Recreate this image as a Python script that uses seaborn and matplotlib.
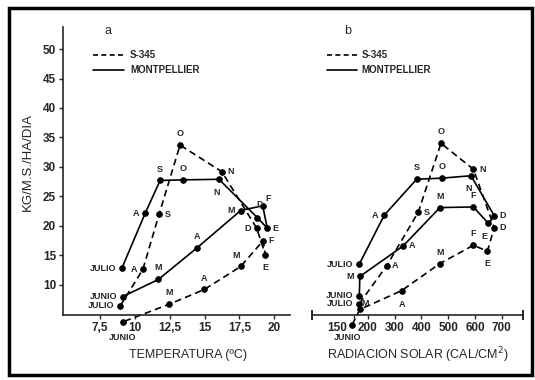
import matplotlib
matplotlib.use("Agg")
import matplotlib.pyplot as plt
import seaborn as sns
import pandas as pd
from matplotlib.patches import Rectangle

# meses (julio -> junio)
meses = ["JULIO", "A", "S", "O", "N", "D", "E", "F", "M", "A", "M", "JUNIO"]

# panel a: temperatura (oC) vs kg M.S./ha/dia
temp_mont = [9.06, 10.73, 11.81, 13.48, 16.04, 18.79, 19.51, 19.18, 17.6, 14.48, 11.69, 9.13]
kg_mont_a = [12.8, 22.1, 27.7, 27.8, 27.9, 21.4, 19.6, 23.4, 22.6, 16.3, 10.9, 8.0]
temp_s345 = [8.94, 10.57, 11.74, 13.24, 16.24, 18.75, 19.37, 19.22, 17.6, 14.99, 12.47, 9.13]
kg_s345_a = [6.4, 12.6, 22.0, 33.7, 29.2, 19.6, 15.1, 17.5, 13.1, 9.2, 6.7, 3.7]

# panel b: radiacion solar (cal/cm2) vs kg M.S./ha/dia
rad_mont = [168, 261, 382, 478, 585, 672, 650, 594, 469, 332, 170, 168]
kg_mont_b = [13.5, 21.8, 27.9, 28.1, 28.5, 21.7, 20.4, 23.2, 23.1, 16.6, 11.4, 8.1]
rad_s345 = [168, 270, 388, 473, 594, 672, 646, 594, 469, 326, 170, 141]
kg_s345_b = [6.8, 13.2, 22.3, 34.0, 29.6, 19.7, 15.7, 16.7, 13.6, 9.0, 5.8, 3.2]

yticks = [10, 15, 20, 25, 30, 35, 40, 45, 50]
xticks_a = [7.5, 10, 12.5, 15, 17.5, 20]
xlabels_a = ["7,5", "10", "12,5", "15", "17,5", "20"]
xticks_b = [150, 200, 300, 400, 500, 600, 700]

# posicion de las etiquetas de cada punto (desplazamiento en puntos)
L, R, U, D = (-4, 0), (4, 0), (0, 5), (0, -6)
off_mont_a = [L, L, U, U, (-2, -6), (2, 6), R, (4, 2), L, U, U, L]
off_s345_a = [L, L, R, U, R, L, D, R, (-3, 5), U, U, (0, -8)]
off_mont_b = [L, L, U, U, (-2, -6), R, (-3, -6), U, U, R, L, L]
off_s345_b = [L, R, R, U, R, R, D, U, U, (0, -7), (4, 1), (-3, -6)]

sns.set_style("ticks")
plt.rcParams["font.family"] = ["Liberation Sans", "DejaVu Sans"]

fig = plt.figure(figsize=(5.35, 3.8), dpi=100)
ax_a = fig.add_axes([0.118, 0.171, 0.424, 0.758])
ax_b = fig.add_axes([0.584, 0.171, 0.393, 0.758])


def serie(ax, x, y, estilo, offs):
    df = pd.DataFrame({"x": x, "y": y})
    sns.lineplot(data=df, x="x", y="y", sort=False, estimator=None, ax=ax,
                 color="black", linestyle=estilo, linewidth=1.2,
                 marker="o", markersize=4, markeredgecolor="black")
    ax.lines[-1].set_clip_on(False)
    if estilo == "--":
        ax.lines[-1].set_dashes((4, 2.5))
    for xi, yi, m, o in zip(x, y, meses, offs):
        ha = "right" if o[0] < 0 and o[1] == 0 else ("left" if o[0] > 0 and o[1] == 0 else "center")
        va = "center" if o[1] == 0 else ("bottom" if o[1] > 0 else "top")
        ax.annotate(m, (xi, yi), xytext=o, textcoords="offset points",
                    ha=ha, va=va, fontsize=6.5, fontweight="bold",
                    annotation_clip=False)


serie(ax_a, temp_s345, kg_s345_a, "--", off_s345_a)
serie(ax_a, temp_mont, kg_mont_a, "-", off_mont_a)
serie(ax_b, rad_s345, kg_s345_b, "--", off_s345_b)
serie(ax_b, rad_mont, kg_mont_b, "-", off_mont_b)

# ejes
ax_a.set_xlim(4.84, 21.14)
ax_a.set_ylim(4.86, 53.75)
ax_a.set_xticks(xticks_a)
ax_a.set_xticklabels(xlabels_a)
ax_a.set_yticks(yticks)
sns.despine(ax=ax_a)

ax_b.set_xlim(-7, 778)
ax_b.set_ylim(4.86, 53.75)
ax_b.set_xticks(xticks_b)
# el "150" va corrido a la izquierda, como en el original
ax_b.set_xticklabels([""] + [str(t) for t in xticks_b[1:]])
ax_b.annotate(str(xticks_b[0]), (xticks_b[0], 0), xycoords=("data", "axes fraction"),
              xytext=(-5, -5), textcoords="offset points", ha="right", va="top",
              fontsize=8.5, fontweight="bold", annotation_clip=False)
ax_b.set_yticks([])
sns.despine(ax=ax_b, left=True)
ax_b.plot([0, 1], [0, 0], transform=ax_b.transAxes, ls="none", marker="|",
          ms=7, mew=1.2, color="black", clip_on=False)

for ax in (ax_a, ax_b):
    ax.set_xlabel("")
    ax.set_ylabel("")
    ax.set_facecolor("white")
    for s in ax.spines.values():
        s.set_linewidth(1.2)
    ax.tick_params(axis="both", length=3, width=1, labelsize=8.5, pad=2)
    for t in ax.get_xticklabels() + ax.get_yticklabels():
        t.set_fontweight("bold")

# leyendas
for ax, x0 in ((ax_a, 0.13), (ax_b, 0.07)):
    ax.plot([x0, x0 + 0.14], [0.903, 0.903], transform=ax.transAxes,
            color="black", lw=1.2, dashes=(3, 2))
    ax.plot([x0, x0 + 0.14], [0.85, 0.85], transform=ax.transAxes,
            color="black", lw=1.2)
    ax.text(x0 + 0.165, 0.903, "S-345", transform=ax.transAxes,
            va="center", fontsize=7, fontweight="bold")
    ax.text(x0 + 0.165, 0.85, "MONTPELLIER", transform=ax.transAxes,
            va="center", fontsize=7, fontweight="bold")

fig.text(108 / 535, 1 - 31 / 380, "a", fontsize=9, ha="center", va="center")
fig.text(348 / 535, 1 - 31 / 380, "b", fontsize=9, ha="center", va="center")

fig.text(28 / 535, 1 - 162 / 380, "KG/M.S./HA/DIA", rotation=90,
         ha="center", va="center", fontsize=9.5)
fig.text(188 / 535, 1 - 355 / 380, "TEMPERATURA (ºC)", ha="center",
         va="center", fontsize=9)
fig.text(418 / 535, 1 - 355 / 380, "RADIACION SOLAR (CAL/CM$^2$)", ha="center",
         va="center", fontsize=9)

# marco
fig.patches.append(Rectangle((9 / 535, 5 / 380), 523 / 535, 367 / 380,
                             transform=fig.transFigure, fill=False,
                             edgecolor="black", linewidth=2.5))

fig.savefig("out.png", dpi=100)
